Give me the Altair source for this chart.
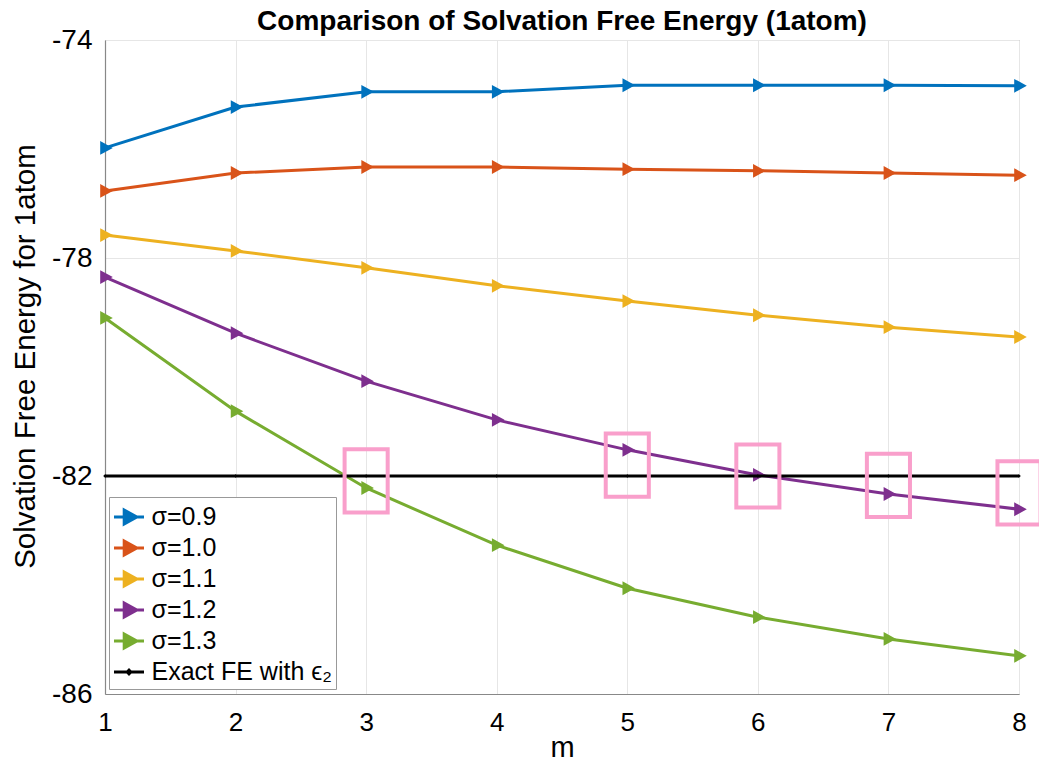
import altair as alt
import pandas as pd

chart_title = "Comparison of Solvation Free Energy (1atom)"

m_values = [1, 2, 3, 4, 5, 6, 7, 8]
sigma_09 = [-75.98, -75.23, -74.95, -74.95, -74.83, -74.83, -74.83, -74.84]
sigma_10 = [-76.77, -76.44, -76.33, -76.33, -76.37, -76.40, -76.44, -76.48]
sigma_11 = [-77.58, -77.87, -78.18, -78.51, -78.79, -79.05, -79.27, -79.45]
sigma_12 = [-78.35, -79.38, -80.26, -80.97, -81.52, -81.98, -82.33, -82.61]
sigma_13 = [-79.10, -80.81, -82.22, -83.27, -84.06, -84.59, -84.99, -85.30]
exact_fe = [-82.0, -82.0, -82.0, -82.0, -82.0, -82.0, -82.0, -82.0]

series_names = ["σ=0.9", "σ=1.0", "σ=1.1", "σ=1.2", "σ=1.3", "Exact FE with ϵ₂"]
series_colors = ["#0072BD", "#D95319", "#EDB120", "#7E2F8E", "#77AC30", "#000000"]

box_m = [3, 5, 6, 7, 8]
box_e = [-82.09, -81.80, -82.00, -82.17, -82.31]

y_ticks = [-86, -82, -78, -74]

rows = []
for name, vals in zip(series_names, [sigma_09, sigma_10, sigma_11, sigma_12, sigma_13, exact_fe]):
    for mv, v in zip(m_values, vals):
        rows.append({"m": mv, "E": v, "series": name})
df = pd.DataFrame(rows)
sig_df = df[df["series"] != series_names[-1]]
ex_df = df[df["series"] == series_names[-1]]
box_df = pd.DataFrame({"m": box_m, "E": box_e})
title_df = pd.DataFrame({"t": [chart_title]})

sym_tri = "M-1,0L1,0M-0.32,-0.46L0.52,0L-0.32,0.46Z"
sym_dot = "M-1,0L1,0M-0.12,0L0,-0.12L0.12,0L0,0.12Z"
series_shapes = [sym_tri] * 5 + [sym_dot]

legend = alt.Legend(
    title=None,
    orient="none",
    legendX=4,
    legendY=457,
    symbolSize=900,
    symbolStrokeWidth=3,
    labelFont="Liberation Sans",
    labelFontSize=25,
    labelColor="#000000",
    labelOffset=6,
    rowPadding=1,
    padding=3.5,
    fillColor="#ffffff",
    strokeColor="#999999",
    labelLimit=400,
    symbolOpacity=1,
)

x_scale = alt.Scale(domain=[1, 8], nice=False, zero=False)
y_scale = alt.Scale(domain=[-86, -74], nice=False, zero=False)

x_enc = alt.X(
    "m:Q",
    scale=x_scale,
    axis=alt.Axis(
        values=m_values,
        format="d",
        title="m",
        labelFontSize=26,
        labelPadding=15,
        labelFlush=False,
        titleFontSize=29,
        titleFontWeight="normal",
        titleY=62,
        titleBaseline="alphabetic",
    ),
)
y_enc = alt.Y(
    "E:Q",
    scale=y_scale,
    axis=alt.Axis(
        values=y_ticks,
        labelExpr="'' + datum.value",
        title="Solvation Free Energy for 1atom",
        labelFontSize=28,
        labelPadding=13,
        labelFlush=False,
        titleFontSize=29.5,
        titleFontWeight="normal",
        titleAngle=-90,
        titleX=-80,
        titleY=316,
        titleAlign="center",
        titleBaseline="middle",
    ),
)
color_enc = alt.Color(
    "series:N",
    scale=alt.Scale(domain=series_names, range=series_colors),
    legend=legend,
)
shape_enc = alt.Shape(
    "series:N",
    scale=alt.Scale(domain=series_names, range=series_shapes),
    legend=legend,
)

sig_lines = alt.Chart(sig_df).mark_line(strokeWidth=3).encode(
    x=x_enc, y=y_enc, color=color_enc, order="m:Q"
)
sig_pts = alt.Chart(sig_df).mark_point(
    filled=True, size=900, strokeWidth=0, opacity=1
).encode(x=x_enc, y=y_enc, color=color_enc, shape=shape_enc)
ex_line = alt.Chart(ex_df).mark_line(strokeWidth=3).encode(
    x=x_enc, y=y_enc, color=color_enc, order="m:Q"
)
ex_pts = alt.Chart(ex_df).mark_point(
    filled=True, size=900, strokeWidth=0, opacity=1
).encode(x=x_enc, y=y_enc, color=color_enc, shape=shape_enc)

boxes = alt.Chart(box_df).transform_calculate(
    x1="datum.m - 0.165", x2="datum.m + 0.165", y1="datum.E - 0.58", y2="datum.E + 0.58"
).mark_rect(filled=False, stroke="#F99FCB", strokeWidth=4, clip=False).encode(
    x=alt.X("x1:Q", scale=x_scale),
    x2="x2:Q",
    y=alt.Y("y1:Q", scale=y_scale),
    y2="y2:Q",
)

title_mark = alt.Chart(title_df).mark_text(
    font="Liberation Sans",
    fontSize=28,
    fontWeight="bold",
    color="#000000",
    align="center",
    baseline="alphabetic",
    clip=False,
).encode(text="t:N", x=alt.value(457), y=alt.value(-10))

chart = alt.layer(sig_lines, sig_pts, ex_line, ex_pts, boxes, title_mark).properties(
    width=914,
    height=654,
    autosize=alt.AutoSizeParams(type="none"),
    padding={"left": 97, "top": 32, "right": 20, "bottom": 70},
).configure_axis(
    labelFont="Liberation Sans",
    titleFont="Liberation Sans",
    labelColor="#000000",
    titleColor="#000000",
    grid=True,
    gridColor="#e6e6e6",
    gridWidth=1,
    domainColor="#888888",
    domainWidth=1.2,
    ticks=False,
).configure_view(
    stroke="#999999", strokeWidth=1
)

chart.save("out.html", embed_options={"renderer": "svg", "actions": False})
